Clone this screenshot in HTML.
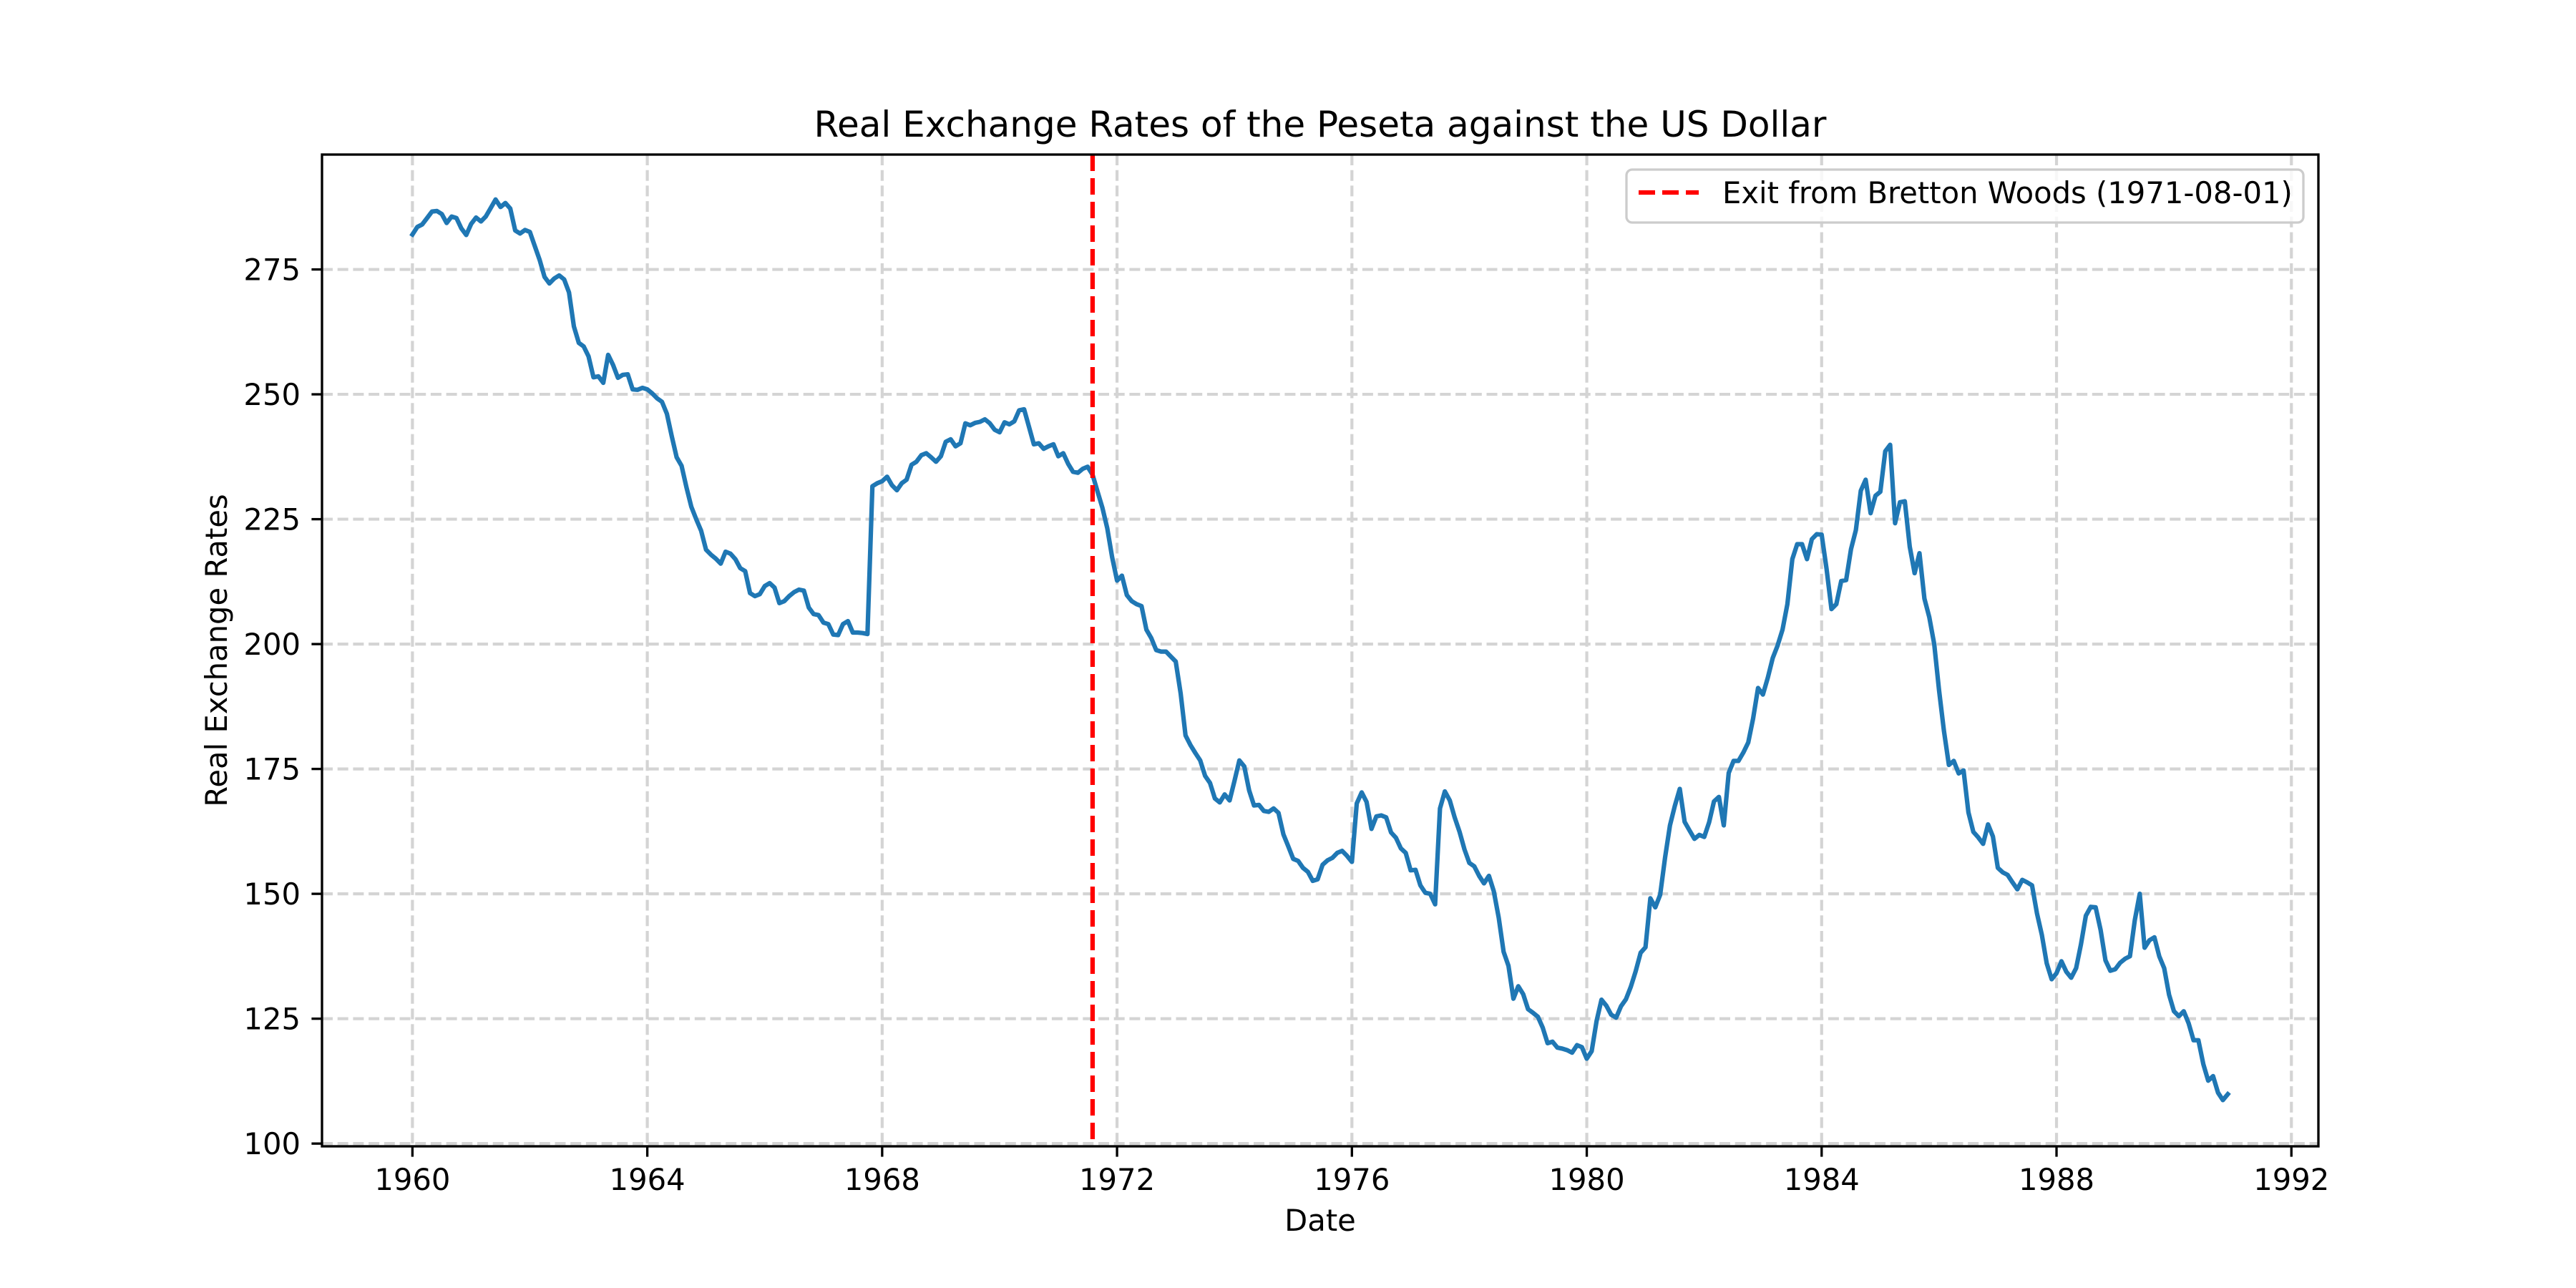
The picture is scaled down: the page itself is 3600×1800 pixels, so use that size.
<!DOCTYPE html>
<html>
<head>
<meta charset="utf-8">
<style>
  html, body { margin: 0; padding: 0; background: #ffffff; }
  svg { display: block; }
  text { font-family: "DejaVu Sans", "Liberation Sans", sans-serif; fill: #000; }
</style>
</head>
<body>
<svg id="chart" xmlns="http://www.w3.org/2000/svg" width="3600" height="1800" viewBox="0 0 3600 1800">
  <rect x="0" y="0" width="3600" height="1800" fill="#ffffff"/>
  <g id="grid"></g>
  <g id="series"></g>
  <g id="axes"></g>
  <text x="1845" y="191" font-size="50" text-anchor="middle">Real Exchange Rates of the Peseta against the US Dollar</text>
  <text x="1845" y="1720" font-size="41.7" text-anchor="middle">Date</text>
  <text x="317" y="909" font-size="41.7" text-anchor="middle" transform="rotate(-90 317 909)">Real Exchange Rates</text>
  <g>
    <rect x="2273" y="237" width="946" height="74" rx="8" ry="8" fill="#ffffff" fill-opacity="0.8" stroke="#cccccc" stroke-width="3.3"/>
    <line x1="2290" y1="269" x2="2374" y2="269" stroke="#ff0000" stroke-width="6.25" stroke-dasharray="23 10"/>
    <text x="2407" y="284" font-size="41.7">Exit from Bretton Woods (1971-08-01)</text>
  </g>
</svg>
<script>
// ---- chart data ----
const startYear = 1960;
const values = [
282.0,283.5,284.0,285.3,286.6,286.7,286.1,284.3,285.6,285.3,283.2,281.9,
284.1,285.4,284.6,285.6,287.3,289.0,287.5,288.3,287.2,282.8,282.2,282.9,
282.5,279.7,276.9,273.5,272.2,273.2,273.8,273.0,270.4,263.6,260.3,259.6,
257.6,253.4,253.6,252.3,257.9,255.9,253.3,253.9,254.0,251.0,250.9,251.3,
251.0,250.2,249.2,248.5,246.1,241.6,237.4,235.7,231.4,227.5,225.0,222.7,
218.9,217.9,217.1,216.1,218.5,218.1,217.0,215.2,214.6,210.2,209.6,210.0,
211.6,212.2,211.3,208.2,208.6,209.6,210.4,210.9,210.7,207.3,206.0,205.8,
204.3,204.0,201.9,201.8,204.0,204.6,202.3,202.3,202.2,202.0,231.6,232.2,
232.6,233.5,231.8,230.8,232.2,232.9,235.9,236.5,237.8,238.2,237.4,236.5,
237.6,240.5,241.0,239.6,240.2,244.2,243.8,244.3,244.5,245.0,244.2,242.9,
242.4,244.4,244.0,244.6,246.8,247.0,243.5,240.0,240.2,239.1,239.6,240.0,
237.6,238.2,236.1,234.5,234.3,235.1,235.5,233.9,230.6,227.3,223.2,217.4,
212.7,213.7,209.8,208.6,208.0,207.6,202.9,201.2,198.8,198.5,198.5,197.5,
196.5,190.1,181.7,179.8,178.2,176.7,173.6,172.2,169.1,168.3,169.9,168.7,
172.6,176.7,175.5,170.7,167.7,167.8,166.6,166.4,167.1,166.2,161.9,159.5,
157.0,156.6,155.2,154.4,152.6,152.9,155.8,156.7,157.2,158.2,158.6,157.6,
156.4,168.1,170.3,168.4,163.0,165.5,165.7,165.3,162.3,161.2,159.1,158.2,
154.7,154.8,151.7,150.2,150.0,147.9,167.1,170.5,168.7,165.3,162.4,158.9,
156.2,155.5,153.6,152.1,153.6,150.5,145.2,138.4,135.6,129.0,131.5,129.9,
126.9,126.2,125.4,123.2,120.1,120.4,119.2,119.0,118.7,118.2,119.7,119.3,
117.0,118.5,124.5,128.8,127.6,125.8,125.2,127.5,128.9,131.4,134.5,138.2,
139.3,149.1,147.3,149.8,157.3,163.7,167.6,171.0,164.4,162.7,161.0,161.8,
161.4,164.3,168.5,169.4,163.7,174.2,176.6,176.6,178.3,180.3,185.1,191.2,
189.9,193.3,197.2,199.7,202.9,208.0,217.0,220.0,220.0,217.0,221.0,222.0,
221.9,215.1,207.0,208.0,212.6,212.8,219.0,222.8,230.7,232.9,226.2,229.7,
230.5,238.6,239.9,224.2,228.4,228.6,219.5,214.2,218.2,209.1,205.4,200.0,
190.7,182.6,175.8,176.6,174.1,174.7,166.3,162.4,161.3,160.0,163.9,161.5,
155.2,154.3,153.8,152.3,150.9,152.8,152.3,151.7,146.1,141.8,136.1,132.9,
134.1,136.5,134.4,133.2,135.1,139.9,145.6,147.4,147.3,142.8,136.7,134.6,
134.9,136.2,137.0,137.5,144.7,150.0,139.2,140.7,141.3,137.5,135.1,129.8,
126.5,125.5,126.5,124.1,120.7,120.7,115.9,112.6,113.5,110.2,108.7,109.9
];
const xTicks = [1960,1964,1968,1972,1976,1980,1984,1988,1992];
const yTicks = [100,125,150,175,200,225,250,275];
const eventDate = 1971 + 7/12; // 1971-08-01

// ---- axis geometry ----
const L = 450, R = 3240, T = 216, B = 1602;
const xMin = 1958.46, xMax = 1992.46;
const yMin = 99.45, yMax = 298.0;
function xs(t) { return L + (t - xMin) / (xMax - xMin) * (R - L); }
function ys(v) { return B - (v - yMin) / (yMax - yMin) * (B - T); }

const NS = 'http://www.w3.org/2000/svg';
function mk(tag, attrs, parent) {
  const e = document.createElementNS(NS, tag);
  for (const k in attrs) e.setAttribute(k, attrs[k]);
  parent.appendChild(e);
  return e;
}
const grid = document.getElementById('grid');
const series = document.getElementById('series');
const axes = document.getElementById('axes');

// grid lines
xTicks.forEach(function (t) {
  const g = mk('line', {x1: xs(t), x2: xs(t), y1: T, y2: B, stroke: '#d4d4d4', 'stroke-width': 4.2, 'stroke-dasharray': '15 6.7'}, grid);
  
  
});
yTicks.forEach(function (v) {
  const g = mk('line', {x1: L, x2: R, y1: ys(v), y2: ys(v), stroke: '#d4d4d4', 'stroke-width': 4.2, 'stroke-dasharray': '15 6.7'}, grid);
  
  
});

// series line
const pts = values.map(function (v, i) {
  return xs(startYear + i / 12).toFixed(1) + ',' + ys(v).toFixed(1);
}).join(' ');
const line = mk('polyline', {points: pts, fill: 'none', stroke: '#1f77b4', 'stroke-width': 6.25, 'stroke-linejoin': 'round', 'stroke-linecap': 'square'}, series);



// event vertical line
const ev = mk('line', {x1: xs(eventDate), x2: xs(eventDate), y1: T, y2: B, stroke: '#ff0000', 'stroke-width': 6.25, 'stroke-dasharray': '23 10'}, series);



// spines
const frame = mk('rect', {x: L, y: T, width: R - L, height: B - T, fill: 'none', stroke: '#000', 'stroke-width': 3.33}, axes);



// x ticks
xTicks.forEach(function (t) {
  const tk = mk('line', {x1: xs(t), x2: xs(t), y1: B, y2: B + 14.6, stroke: '#000', 'stroke-width': 3.33}, axes);
  
  
  const lb = mk('text', {x: xs(t), y: 1663, 'font-size': 41.7, 'text-anchor': 'middle'}, axes);
  lb.textContent = String(t);
  
  
});
// y ticks
yTicks.forEach(function (v) {
  const tk = mk('line', {x1: L - 14.6, x2: L, y1: ys(v), y2: ys(v), stroke: '#000', 'stroke-width': 3.33}, axes);
  
  
  const lb = mk('text', {x: 420, y: ys(v) + 15, 'font-size': 41.7, 'text-anchor': 'end'}, axes);
  lb.textContent = String(v);
  
  
});
</script>
</body>
</html>
